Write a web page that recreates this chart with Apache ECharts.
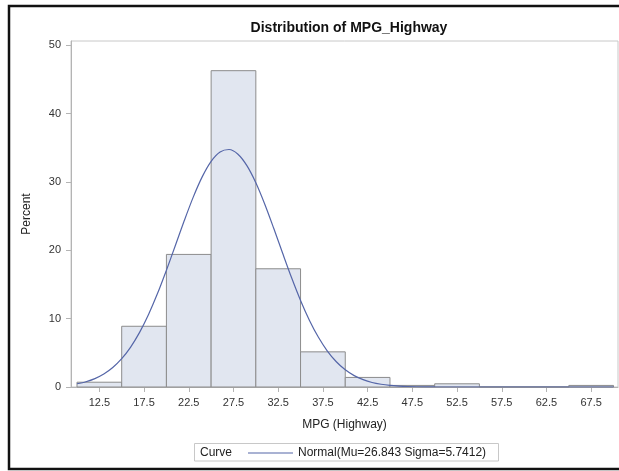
<!DOCTYPE html>
<html>
<head>
<meta charset="utf-8">
<script src="https://cdn.jsdelivr.net/npm/echarts@6/dist/echarts.min.js"></script>
<style>
  html, body { margin: 0; padding: 0; background: #fff; }
  #chart { width: 619px; height: 471px; }
</style>
</head>
<body>
<div id="chart"></div>
<script>
// Histogram bins (MPG lower / upper edges) and percent of cars per bin
const binLower = [10, 15, 20, 25, 30, 35, 40, 45, 50, 55, 60, 65];
const binUpper = [15, 20, 25, 30, 35, 40, 45, 50, 55, 60, 65, 70];
const percent  = [0.70, 8.88, 19.39, 46.26, 17.29, 5.14, 1.40, 0.23, 0.47, 0, 0, 0.23];

// Fitted normal curve (MPG, percent)
const curveX = [10, 11, 12, 13, 14, 15, 16, 17, 18, 19, 20, 21, 22, 23, 24, 25, 26, 27, 28, 29,
                30, 31, 32, 33, 34, 35, 36, 37, 38, 39, 40, 41, 42, 43, 44, 45, 46, 47, 48, 50,
                55, 60, 65, 70];
const curveY = [0.47, 0.77, 1.23, 1.90, 2.85, 4.14, 5.84, 7.99, 10.61, 13.66, 17.08, 20.70, 24.34, 27.77, 30.73, 33.00, 34.37, 34.73, 34.04, 32.37,
                29.87, 26.73, 23.21, 19.55, 15.97, 12.66, 9.74, 7.27, 5.26, 3.69, 2.51, 1.66, 1.07, 0.66, 0.40, 0.23, 0.13, 0.07, 0.04, 0.01,
                0, 0, 0, 0];

// Tick labels
const xTicks = [12.5, 17.5, 22.5, 27.5, 32.5, 37.5, 42.5, 47.5, 52.5, 57.5, 62.5, 67.5];
const yTicks = [0, 10, 20, 30, 40, 50];

const titleText = 'Distribution of MPG_Highway';
const xName = 'MPG (Highway)';
const yName = 'Percent';
const curveName = 'Normal(Mu=26.843 Sigma=5.7412)';
const legendTitle = 'Curve';

const FONT = '"Liberation Sans", Arial, sans-serif';
const CURVE_COLOR = '#5566a8';
const chart = echarts.init(document.getElementById('chart'), null, { renderer: 'canvas' });

const histData = binLower.map((lo, i) => [lo, binUpper[i], percent[i]]);
const curveData = curveX.map((x, i) => [x, curveY[i]]);

chart.setOption({
  animation: false,
  backgroundColor: '#ffffff',
  textStyle: { fontFamily: FONT },
  title: {
    text: titleText,
    left: 344, top: 16, textAlign: 'center',
    textStyle: { fontFamily: FONT, fontSize: 14, fontWeight: 'bold', color: '#111' }
  },
  grid: {
    left: 71, top: 41, width: 547, height: 346,
    show: true, borderColor: '#c8c8c8', borderWidth: 1, backgroundColor: '#fff'
  },
  xAxis: {
    type: 'value', min: 9.33, max: 70.5,
    name: xName, nameLocation: 'middle', nameGap: 32,
    nameTextStyle: { fontFamily: FONT, fontSize: 12, color: '#222' },
    axisLine: { show: true, onZero: false, lineStyle: { color: '#b4b4b4', width: 1 } },
    axisTick: { show: true, length: 5, customValues: xTicks, lineStyle: { color: '#b4b4b4' } },
    axisLabel: { customValues: xTicks, margin: 10, fontSize: 11, color: '#333', fontFamily: FONT,
                 formatter: v => v.toFixed(1) },
    splitLine: { show: false }
  },
  yAxis: {
    type: 'value', min: 0, max: 50.6,
    name: yName, nameLocation: 'middle', nameGap: 38, nameRotate: 90,
    nameTextStyle: { fontFamily: FONT, fontSize: 12, color: '#222' },
    axisLine: { show: true, lineStyle: { color: '#b4b4b4', width: 1 } },
    axisTick: { show: true, length: 5, customValues: yTicks, lineStyle: { color: '#b4b4b4' } },
    axisLabel: { customValues: yTicks, margin: 10, fontSize: 11, color: '#333', fontFamily: FONT },
    splitLine: { show: false }
  },
  legend: {
    data: [{ name: curveName, icon: 'rect' }],
    left: 248, top: 446, padding: 0,
    itemWidth: 45, itemHeight: 1, itemGap: 10,
    itemStyle: { color: CURVE_COLOR, borderWidth: 0 },
    textStyle: { fontFamily: FONT, fontSize: 12, color: '#222', lineHeight: 14 },
    selectedMode: false
  },
  graphic: [
    { type: 'rect', z: 0, shape: { x: 194.5, y: 443.5, width: 304, height: 17.5 },
      style: { fill: '#fff', stroke: '#c8c8c8', lineWidth: 1 } },
    { type: 'text', z: 1, x: 200, y: 453,
      style: { text: legendTitle, fontFamily: FONT, fontSize: 12, fill: '#222', verticalAlign: 'middle' } },
    { type: 'rect', z: 10, shape: { x: 9, y: 6, width: 630, height: 463 },
      style: { fill: 'none', stroke: '#111', lineWidth: 2.5 } }
  ],
  series: [
    {
      type: 'custom',
      name: 'Histogram',
      data: histData,
      encode: { x: [0, 1], y: 2 },
      renderItem: function (params, api) {
        const p0 = api.coord([api.value(0), api.value(2)]);
        const p1 = api.coord([api.value(1), 0]);
        return {
          type: 'rect',
          shape: { x: p0[0], y: p0[1], width: p1[0] - p0[0], height: p1[1] - p0[1] },
          style: { fill: '#e1e6f0', stroke: '#8c8c8c', lineWidth: 1 }
        };
      },
      z: 2
    },
    {
      type: 'line',
      name: curveName,
      data: curveData,
      smooth: 0.3,
      symbol: 'none',
      showSymbol: false,
      lineStyle: { color: CURVE_COLOR, width: 1.2 },
      itemStyle: { color: CURVE_COLOR },
      z: 3
    }
  ]
});
</script>
</body>
</html>
